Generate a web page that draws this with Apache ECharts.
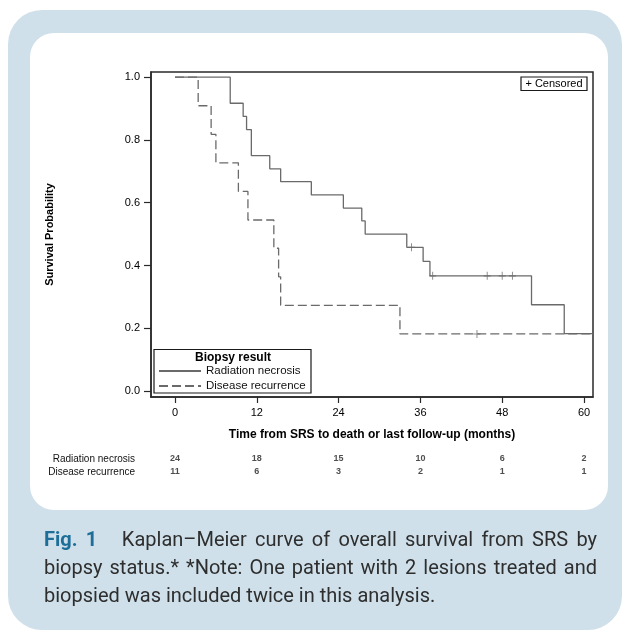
<!DOCTYPE html>
<html>
<head>
<meta charset="utf-8">
<script src="https://cdn.jsdelivr.net/npm/echarts@6/dist/echarts.min.js"></script>
<style>
  html, body { margin: 0; padding: 0; background: #ffffff; }
  #page { position: relative; width: 622px; height: 632px; overflow: hidden; background: #fff; }
  #outer { position: absolute; left: 8px; top: 10px; width: 614px; height: 620px; background: #cfe0ea; border-radius: 34px; }
  #inner { position: absolute; left: 30px; top: 33px; width: 578px; height: 477px; background: #ffffff; border-radius: 24px; }
  #chart { position: absolute; left: 0; top: 0; width: 622px; height: 632px; }
  #caption { position: absolute; left: 44px; top: 525px; width: 553px; font-family: Roboto, 'Liberation Sans', sans-serif; font-size: 20px; line-height: 28px; color: #2e2e2e; }
  #caption .j2 { text-align: justify; text-align-last: justify; }
  #caption b { color: #1d6f99; font-weight: bold; }
</style>
</head>
<body>
<div id="page">
  <div id="outer"></div>
  <div id="inner"></div>
  <div id="chart"></div>
  <div id="caption">
    <div class="j2"><b>Fig. 1</b>&nbsp;&nbsp;&nbsp;Kaplan–Meier curve of overall survival from SRS by</div>
    <div class="j2">biopsy status.* *Note: One patient with 2 lesions treated and</div>
    <div>biopsied was included twice in this analysis.</div>
  </div>
</div>
<script>
// ---- data ----
const groupNames = ['Radiation necrosis', 'Disease recurrence'];

const rnTimes = [0, 8.1, 10.0, 10.5, 11.2, 13.9, 15.5, 20.0, 24.7, 27.4, 27.9, 34.0, 36.4, 37.4, 52.3, 57.1, 61.3];
const rnSurv  = [1.0, 0.917, 0.875, 0.833, 0.750, 0.708, 0.667, 0.625, 0.583, 0.542, 0.500, 0.458, 0.413, 0.367, 0.275, 0.183, 0.183];
const rnCensTimes = [34.7, 37.8, 45.8, 48.0, 49.5];
const rnCensSurv  = [0.458, 0.367, 0.367, 0.367, 0.367];

const drTimes = [0, 3.4, 5.3, 6.0, 9.3, 10.7, 14.5, 15.2, 15.5, 33.0, 61.3];
const drSurv  = [1.0, 0.909, 0.818, 0.727, 0.636, 0.545, 0.455, 0.364, 0.273, 0.182, 0.182];
const drCensTimes = [44.3];
const drCensSurv  = [0.182];

const xTicks = [0, 12, 24, 36, 48, 60];
const yTicks = [0, 0.2, 0.4, 0.6, 0.8, 1.0];

const rnAtRisk = [24, 18, 15, 10, 6, 2];
const drAtRisk = [11, 6, 3, 2, 1, 1];

// ---- build chart ----
const zip = (a, b) => a.map((v, i) => [v, b[i]]);
const FONT = "'Liberation Sans', Arial, sans-serif";
const LINE = '#6a6a6a';
const plusPath = 'path://M5,0 L5,10 M0,5 L10,5';

const riskData = [];
xTicks.forEach((t, i) => {
  riskData.push([t, groupNames[0], rnAtRisk[i]]);
  riskData.push([t, groupNames[1], drAtRisk[i]]);
});

const chart = echarts.init(document.getElementById('chart'), null, { renderer: 'canvas' });
chart.setOption({
  backgroundColor: 'transparent',
  animation: false,
  textStyle: { fontFamily: FONT },
  grid: [
    { left: 151, top: 72, width: 442, height: 325, show: true, borderColor: '#2a2a2a', borderWidth: 1.5, backgroundColor: '#fff', outerBoundsMode: 'none' },
    { left: 151, top: 452.5, width: 442, height: 26, show: false, outerBoundsMode: 'none' }
  ],
  xAxis: [
    {
      gridIndex: 0, type: 'value', min: -3.52, max: 61.32,
      name: 'Time from SRS to death or last follow-up (months)',
      nameLocation: 'middle', nameGap: 32,
      nameTextStyle: { fontFamily: FONT, fontWeight: 'bold', fontSize: 12, color: '#000' },
      axisLine: { show: true, onZero: false, lineStyle: { color: '#2a2a2a', width: 1.5 } },
      axisTick: { show: true, customValues: xTicks, length: 6, lineStyle: { color: '#2a2a2a', width: 1.2 } },
      axisLabel: { customValues: xTicks, margin: 10, fontSize: 11, color: '#000', fontFamily: FONT },
      splitLine: { show: false }
    },
    {
      gridIndex: 1, type: 'value', min: -3.52, max: 61.32, show: false
    }
  ],
  yAxis: [
    {
      gridIndex: 0, type: 'value', min: -0.019, max: 1.0165,
      name: 'Survival Probability',
      nameLocation: 'middle', nameGap: 96,
      nameTextStyle: { fontFamily: FONT, fontWeight: 'bold', fontSize: 11, color: '#000' },
      axisLine: { show: true, onZero: false, lineStyle: { color: '#2a2a2a', width: 1.5 } },
      axisTick: { show: true, customValues: yTicks, length: 7, lineStyle: { color: '#2a2a2a', width: 1.2 } },
      axisLabel: { customValues: yTicks, margin: 11, fontSize: 11, color: '#000', fontFamily: FONT,
                   formatter: v => v.toFixed(1) },
      splitLine: { show: false }
    },
    {
      gridIndex: 1, type: 'category', data: groupNames, inverse: true,
      axisLine: { show: false }, axisTick: { show: false }, splitLine: { show: false },
      axisLabel: { interval: 0, margin: 16, fontSize: 10, color: '#111', fontFamily: FONT }
    }
  ],
  legend: {
    data: groupNames, orient: 'vertical', left: 158, top: 365, padding: 0,
    itemWidth: 42, itemHeight: 10, itemGap: 3, selectedMode: false,
    itemStyle: { opacity: 0 },
    textStyle: { fontSize: 11.5, color: '#111', fontFamily: FONT },
    z: 10
  },
  graphic: [
    { type: 'rect', z: 5, shape: { x: 154, y: 349.5, width: 157, height: 43.5 },
      style: { fill: '#fff', stroke: '#1a1a1a', lineWidth: 1.2 } },
    { type: 'text', z: 6, x: 233, y: 357.5, style: { text: 'Biopsy result', fontFamily: FONT, fontWeight: 'bold', fontSize: 12,
      fill: '#000', align: 'center', verticalAlign: 'middle' } },
    { type: 'rect', z: 5, shape: { x: 521, y: 77, width: 66, height: 13.5 },
      style: { fill: '#fff', stroke: '#1a1a1a', lineWidth: 1.2 } },
    { type: 'text', z: 6, x: 554, y: 84, style: { text: '+ Censored', fontFamily: FONT, fontSize: 11,
      fill: '#000', align: 'center', verticalAlign: 'middle' } }
  ],
  series: [
    {
      name: groupNames[0], type: 'line', xAxisIndex: 0, yAxisIndex: 0, step: 'end',
      data: zip(rnTimes, rnSurv), symbol: 'none', showSymbol: false,
      lineStyle: { color: LINE, width: 1.3, type: 'solid' }, itemStyle: { color: LINE }, z: 3
    },
    {
      name: groupNames[1], type: 'line', xAxisIndex: 0, yAxisIndex: 0, step: 'end',
      data: zip(drTimes, drSurv), symbol: 'none', showSymbol: false,
      lineStyle: { color: LINE, width: 1.3, type: [9, 4] }, itemStyle: { color: LINE }, z: 3
    },
    {
      name: 'Censored RN', type: 'scatter', xAxisIndex: 0, yAxisIndex: 0,
      data: zip(rnCensTimes, rnCensSurv), symbol: plusPath, symbolSize: [7, 8],
      itemStyle: { color: 'transparent', borderColor: LINE, borderWidth: 1 }, z: 4
    },
    {
      name: 'Censored DR', type: 'scatter', xAxisIndex: 0, yAxisIndex: 0,
      data: zip(drCensTimes, drCensSurv), symbol: plusPath, symbolSize: [7, 8],
      itemStyle: { color: 'transparent', borderColor: LINE, borderWidth: 1 }, z: 4
    },
    {
      name: 'At risk', type: 'scatter', xAxisIndex: 1, yAxisIndex: 1,
      data: riskData, symbolSize: 1, itemStyle: { color: 'transparent' },
      label: { show: true, position: 'inside', formatter: p => String(p.value[2]),
               fontSize: 9, fontWeight: 'bold', color: '#222', fontFamily: FONT }
    }
  ]
});
</script>
</body>
</html>
